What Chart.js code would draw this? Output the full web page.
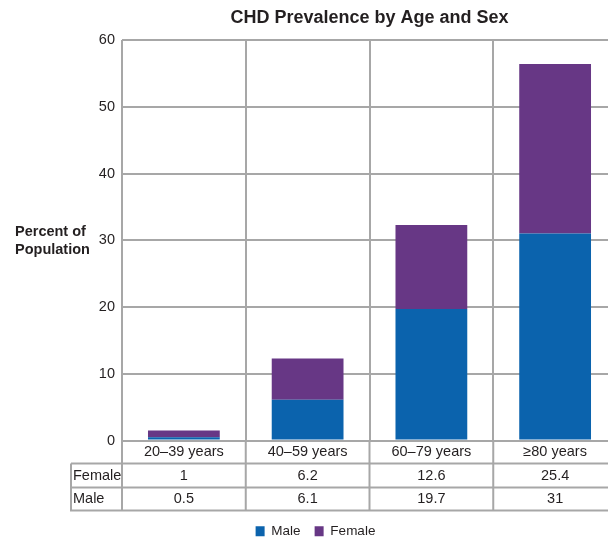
<!DOCTYPE html>
<html>
<head>
<meta charset="utf-8">
<script src="https://cdn.jsdelivr.net/npm/chart.js@4/dist/chart.umd.min.js"></script>
<style>
  html, body { margin: 0; padding: 0; overflow: hidden; background: #fff; }
  #wrap { width: 625px; height: 539px; }
</style>
</head>
<body>
<div id="wrap"><canvas id="barChart" width="625" height="539"></canvas></div>
<script>
// data
var categories = ['20–39 years', '40–59 years', '60–79 years', '≥80 years'];
var maleValues = [0.5, 6.1, 19.7, 31];
var femaleValues = [1, 6.2, 12.6, 25.4];
var seriesNames = ['Male', 'Female'];
var yMax = 60;
var yStep = 10;

var gridColor = '#a7a7a7';
var textColor = '#231f20';
var font = '"Liberation Sans", Arial, sans-serif';

// draws title, y label and the data table under the bars
var tablePlugin = {
  id: 'dataTable',
  afterDraw: function (chart) {
    var ctx = chart.ctx;
    var area = chart.chartArea;
    var x = chart.scales.x;
    var rows = [area.bottom, area.bottom + 23, area.bottom + 47, area.bottom + 70];
    var labelLeft = 71;
    var half = (x.getPixelForValue(1) - x.getPixelForValue(0)) / 2;

    ctx.save();
    ctx.fillStyle = textColor;
    ctx.font = 'bold 18px ' + font;
    ctx.textAlign = 'center';
    ctx.textBaseline = 'middle';
    ctx.fillText('CHD Prevalence by Age and Sex', (area.left + area.right) / 2, 18);

    ctx.font = 'bold 14.5px ' + font;
    ctx.textAlign = 'left';
    ctx.fillText('Percent of', 15, 232);
    ctx.fillText('Population', 15, 250);

    // table lines
    ctx.strokeStyle = gridColor;
    ctx.lineWidth = 2;
    ctx.beginPath();
    ctx.moveTo(labelLeft, rows[1]); ctx.lineTo(area.right, rows[1]);
    ctx.moveTo(labelLeft, rows[2]); ctx.lineTo(area.right, rows[2]);
    ctx.moveTo(labelLeft - 1, rows[3]); ctx.lineTo(area.right, rows[3]);
    ctx.moveTo(labelLeft, rows[1]); ctx.lineTo(labelLeft, rows[3]);
    for (var i = 0; i <= categories.length; i++) {
      var vx = x.getPixelForValue(0) - half + i * 2 * half;
      ctx.moveTo(vx, rows[0]); ctx.lineTo(vx, rows[3]);
    }
    ctx.stroke();

    // table text
    ctx.font = '14.5px ' + font;
    ctx.fillStyle = textColor;
    ctx.textAlign = 'left';
    ctx.fillText('Female', labelLeft + 2, (rows[1] + rows[2]) / 2);
    ctx.fillText('Male', labelLeft + 2, (rows[2] + rows[3]) / 2);
    ctx.textAlign = 'center';
    for (var j = 0; j < categories.length; j++) {
      var cx = x.getPixelForValue(j);
      ctx.fillText(categories[j], cx, (rows[0] + rows[1]) / 2);
      ctx.fillText(String(femaleValues[j]), cx, (rows[1] + rows[2]) / 2);
      ctx.fillText(String(maleValues[j]), cx, (rows[2] + rows[3]) / 2);
    }
    ctx.restore();
  }
};

var ctx = document.getElementById('barChart').getContext('2d');
var barChart = new Chart(ctx, {
  type: 'bar',
  data: {
    labels: categories,
    datasets: [{
      label: seriesNames[0],
      data: maleValues,
      backgroundColor: '#0b63ad',
      barPercentage: 0.58,
      categoryPercentage: 1
    }, {
      label: seriesNames[1],
      data: femaleValues,
      backgroundColor: '#673785',
      barPercentage: 0.58,
      categoryPercentage: 1
    }]
  },
  options: {
    responsive: false,
    animation: false,
    layout: { padding: { top: 40, right: 8, left: 14, bottom: -9 } },
    plugins: {
      tooltip: { enabled: false },
      legend: {
        position: 'bottom',
        labels: {
          boxWidth: 9,
          boxHeight: 10,
          padding: 14,
          color: textColor,
          font: { family: font, size: 13.5 }
        }
      }
    },
    scales: {
      x: {
        stacked: true,
        grid: { color: gridColor, lineWidth: 2, drawTicks: false },
        border: { display: false },
        ticks: { display: false },
        afterFit: function (scale) { scale.height = 70; }
      },
      y: {
        stacked: true,
        min: 0,
        max: yMax,
        grid: { color: gridColor, lineWidth: 2, drawTicks: false },
        border: { display: false },
        ticks: {
          stepSize: yStep,
          padding: 7,
          color: textColor,
          font: { family: font, size: 14.5 }
        },
        afterFit: function (scale) { scale.width = 108; }
      }
    }
  },
  plugins: [tablePlugin]
});
</script>
</body>
</html>
